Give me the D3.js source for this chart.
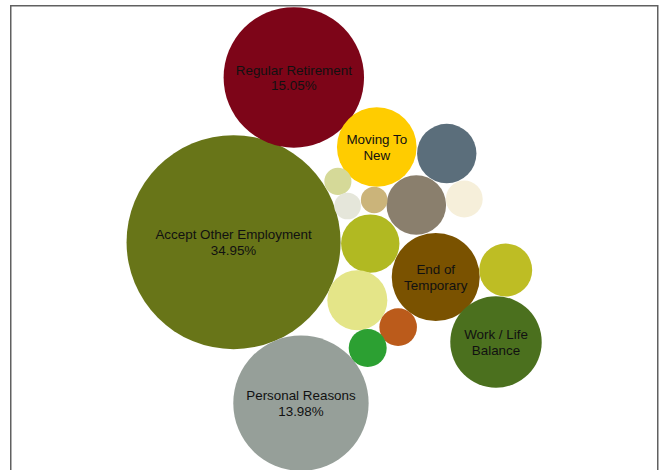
<!DOCTYPE html>
<html>
<head>
<meta charset="utf-8">
<script src="https://cdn.jsdelivr.net/npm/d3@7"></script>
<style>
  body { margin: 0; background: #fff; }
  svg { display: block; }
</style>
</head>
<body>
<div class="chart"></div>
<script>
// reasons for leaving, share of total (%), bubble position (x, y on a 0-100 grid) and colour
const categories = ["Accept Other Employment", "Regular Retirement", "Personal Reasons", "Moving To New",
    "End of Temporary", "Work / Life Balance", "Relocation", "Career Change", "Return To School",
    "Family Reasons", "Health Reasons", "Dissatisfied", "Layoff", "Job Abandonment",
    "Dismissal", "Military Service", "Deceased"];
const shares = [34.95, 15.05, 13.98, 4.84, 5.91, 6.38, 2.69, 2.71, 2.60, 2.75, 2.14, 1.08, 1.10, 1.04, 0.56, 0.54, 0.54];
const xValues = [34.5, 43.8, 44.9, 56.6, 65.7, 75.0, 67.4, 62.7, 55.6, 53.6, 76.5, 59.9, 55.2, 70.1, 50.6, 52.1, 56.2];
const yValues = [49.1, 84.6, 14.4, 69.6, 41.6, 27.6, 68.2, 57.1, 48.8, 36.6, 43.1, 30.8, 26.3, 58.4, 62.2, 56.9, 58.2];
const colours = ["#687518", "#7d0518", "#969f99", "#ffcc00", "#7a5200", "#4b701e", "#5b6e7b", "#8a7f6d",
    "#b1b922", "#e4e588", "#bebd24", "#bb5b1b", "#2ca032", "#f6efda", "#d5d998", "#e5e6da", "#cbb47a"];

const width = 662, height = 470;

const data = categories.map((name, i) => ({
    name: name, share: shares[i], x: xValues[i], y: yValues[i], colour: colours[i]
}));

const x = d3.scaleLinear().domain([0, 100]).range([10, 658]);
const y = d3.scaleLinear().domain([0, 100]).range([470, 6]);
const r = d3.scaleSqrt().domain([0, 34.95]).range([0, 107]);

const svg = d3.select(".chart").append("svg")
    .attr("width", width)
    .attr("height", height);

//frame of the chart panel
svg.append("path")
    .attr("d", `M10.75,${height} V5.75 H657.75 V${height}`)
    .attr("fill", "none")
    .attr("stroke", "#606060")
    .attr("stroke-width", 1.5);

const bubble = svg.selectAll("g.bubble")
    .data(data)
    .enter().append("g")
    .attr("class", "bubble")
    .attr("transform", d => `translate(${x(d.x)},${y(d.y)})`);

bubble.append("circle")
    .attr("r", d => r(d.share))
    .attr("fill", d => d.colour);

//label: wrap the name to the bubble width, add the share for the big ones
const lineHeight = 15.5;
bubble.each(function(d) {
    const radius = r(d.share);
    if (radius < 35) return;
    const g = d3.select(this);
    const maxWidth = radius * 1.7;
    const probe = g.append("text").attr("font-family", "'Liberation Sans', Arial, sans-serif").attr("font-size", "13.4px");
    const words = d.name.split(" ");
    let lines = [], current = "";
    words.forEach(w => {
        const test = current ? current + " " + w : w;
        probe.text(test);
        if (probe.node().getComputedTextLength() > maxWidth && current) {
            lines.push(current);
            current = w;
        } else {
            current = test;
        }
    });
    if (current) lines.push(current);
    probe.remove();
    lines = lines.slice(0, 2);
    if (radius > 60) lines.push(d3.format(".2f")(d.share) + "%");

    const n = lines.length;
    const text = g.append("text")
        .attr("text-anchor", "middle")
        .attr("font-family", "'Liberation Sans', Arial, sans-serif")
        .attr("font-size", "13.4px")
        .attr("fill", "#111");
    lines.forEach((line, i) => {
        text.append("tspan")
            .attr("x", 0)
            .attr("y", 5 + (i - (n - 1) / 2) * lineHeight)
            .text(line);
    });
});
</script>
</body>
</html>
